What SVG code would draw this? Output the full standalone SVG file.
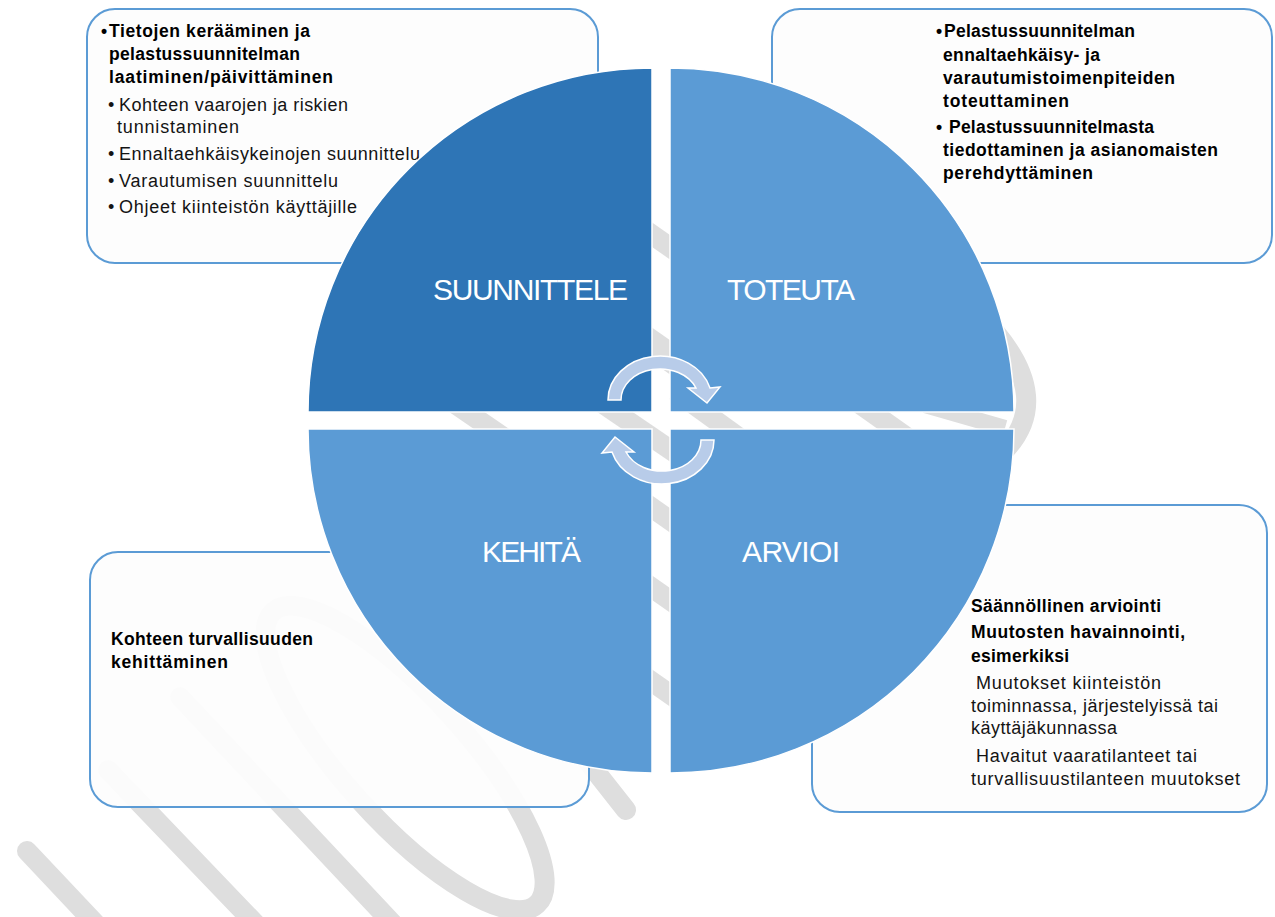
<svg xmlns="http://www.w3.org/2000/svg" width="1275" height="917" viewBox="0 0 1275 917">
<style>
.wm{fill:none;stroke:#DEDEDE;stroke-width:20;stroke-linecap:round}
.band{fill:none;stroke:#DEDEDE;stroke-width:20}
.box{fill:#FDFDFD;fill-opacity:0.94;stroke:#5B9BD5;stroke-width:2}
.t{font-family:"Liberation Sans",Arial,sans-serif;font-size:18px;fill:#141414}
.b{font-weight:bold;font-size:17.5px;fill:#000}
.q{stroke:#FFFFFF;stroke-width:1.5}
.dark{fill:#2E75B6}
.light{fill:#5B9BD5}
.lab{font-family:"Liberation Sans",Arial,sans-serif;font-size:30px;fill:#FFFFFF}
.arr{fill:#B8CCE9;stroke:#FFFFFF;stroke-width:1.5}
</style>
<rect width="1275" height="917" fill="#FFFFFF"/>
<g id="watermark">
  <path class="wm" d="M27 851 L125 955"/>
  <path class="wm" d="M108 770 L295 965"/>
  <path class="wm" d="M180 697 L425 958"/>
  <ellipse class="wm" cx="405" cy="758" rx="197" ry="62" transform="rotate(48 405 758)"/>
  <path class="wm" d="M500 650 L626 810"/>
  <path class="wm" d="M995 332 Q1052 400 1005 450"/>
  <path class="band" style="stroke-width:16" d="M925 405 L1005 428"/>
  <path class="band" d="M590 395 L700 470"/>
  <path class="band" d="M445 397 L512 443"/>
  <path class="band" d="M675 391 L755 449"/>
  <path class="band" d="M850 397 L915 443"/>
  <path class="band" d="M631 220 L691 262"/>
  <path class="band" style="stroke-width:28" d="M631 330 L691 372"/>
  <path class="band" d="M631 493 L691 535"/>
  <path class="band" d="M631 573 L691 615"/>
  <path class="band" d="M631 667 L691 709"/>
</g>
<g id="box-suunnittele-info">
  <rect class="box" x="87" y="9" width="511" height="254" rx="28"/>
  <text class="t b" x="101" y="37">•</text>
  <text class="t b" x="109" y="37" textLength="201">Tietojen kerääminen ja</text>
  <text class="t b" x="109" y="60" textLength="191">pelastussuunnitelman</text>
  <text class="t b" x="109" y="83" textLength="224">laatiminen/päivittäminen</text>
  <text class="t" x="108" y="111">•</text>
  <text class="t" x="119" y="111" textLength="229">Kohteen vaarojen ja riskien</text>
  <text class="t" x="117" y="133" textLength="122">tunnistaminen</text>
  <text class="t" x="108" y="160">•</text>
  <text class="t" x="119" y="160" textLength="301">Ennaltaehkäisykeinojen suunnittelu</text>
  <text class="t" x="108" y="187">•</text>
  <text class="t" x="119" y="187" textLength="219">Varautumisen suunnittelu</text>
  <text class="t" x="108" y="213">•</text>
  <text class="t" x="119" y="213" textLength="238">Ohjeet kiinteistön käyttäjille</text>
</g>
<g id="box-toteuta-info">
  <rect class="box" x="772" y="9" width="500" height="254" rx="28"/>
  <text class="t b" x="936" y="37">•</text>
  <text class="t b" x="944" y="37" textLength="191">Pelastussuunnitelman</text>
  <text class="t b" x="943" y="61" textLength="157">ennaltaehkäisy- ja</text>
  <text class="t b" x="943" y="84" textLength="232">varautumistoimenpiteiden</text>
  <text class="t b" x="943" y="107" textLength="126">toteuttaminen</text>
  <text class="t b" x="936" y="133">•</text>
  <text class="t b" x="949" y="133" textLength="205">Pelastussuunnitelmasta</text>
  <text class="t b" x="943" y="156" textLength="275">tiedottaminen ja asianomaisten</text>
  <text class="t b" x="943" y="179" textLength="150">perehdyttäminen</text>
</g>
<g id="box-arvioi-info">
  <rect class="box" x="812" y="505" width="455" height="307" rx="28"/>
  <text class="t b" x="971" y="612" textLength="190">Säännöllinen arviointi</text>
  <text class="t b" x="971" y="638" textLength="214">Muutosten havainnointi,</text>
  <text class="t b" x="971" y="662" textLength="98">esimerkiksi</text>
  <text class="t" x="976" y="689" textLength="185">Muutokset kiinteistön</text>
  <text class="t" x="971" y="712" textLength="247">toiminnassa, järjestelyissä tai</text>
  <text class="t" x="971" y="734" textLength="146">käyttäjäkunnassa</text>
  <text class="t" x="976" y="762" textLength="221">Havaitut vaaratilanteet tai</text>
  <text class="t" x="971" y="785" textLength="269">turvallisuustilanteen muutokset</text>
</g>
<g id="box-kehita-info">
  <rect class="box" x="90" y="552" width="499" height="255" rx="28"/>
  <text class="t b" x="111" y="645" textLength="202">Kohteen turvallisuuden</text>
  <text class="t b" x="111" y="668" textLength="117">kehittäminen</text>
</g>
<g id="quadrant-suunnittele">
  <path class="q dark" d="M652 412 L308 412 A344 344 0 0 1 652 68 Z"/>
  <text class="lab" x="433" y="300" textLength="195">SUUNNITTELE</text>
</g>
<g id="quadrant-toteuta">
  <path class="q light" d="M670 412 L670 68 A344 344 0 0 1 1014 412 Z"/>
  <text class="lab" x="727" y="300" textLength="128">TOTEUTA</text>
</g>
<g id="quadrant-arvioi">
  <path class="q light" d="M670 429 L1014 429 A344 344 0 0 1 670 773 Z"/>
  <text class="lab" x="742" y="562" textLength="98">ARVIOI</text>
</g>
<g id="quadrant-kehita">
  <path class="q light" d="M652 429 L652 773 A344 344 0 0 1 308 429 Z"/>
  <text class="lab" x="482" y="562" textLength="99">KEHITÄ</text>
</g>
<g id="connectors">
  <path class="arr" d="M608 400 A52 44 0 0 1 710 388 L720 387 L707 403 L688 388 L696 388 A39 31 0 0 0 621 400 Z"/>
  <path class="arr" transform="rotate(180 661 420)" d="M608 400 A52 44 0 0 1 710 388 L720 387 L707 403 L688 388 L696 388 A39 31 0 0 0 621 400 Z"/>
</g>
</svg>
